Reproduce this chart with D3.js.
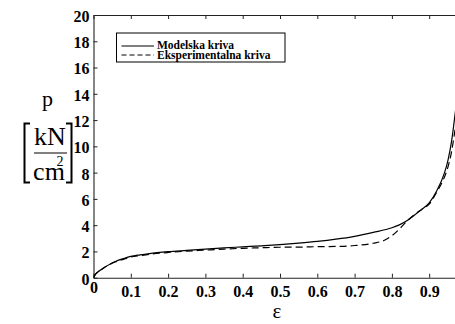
<!DOCTYPE html>
<html>
<head>
<meta charset="utf-8">
<script src="https://cdn.jsdelivr.net/npm/d3@7/dist/d3.min.js"></script>
<style>
  html, body { margin: 0; padding: 0; background: #fff; overflow: hidden; }
  svg { display: block; }
  text { font-family: "Liberation Serif", "Times New Roman", serif; fill: #000; }
</style>
</head>
<body>
<script>
// ---- data ----
const epsModel = [0, 0.005, 0.01, 0.02, 0.03, 0.045, 0.06, 0.08, 0.1, 0.125, 0.15, 0.2, 0.25, 0.3, 0.35, 0.4, 0.45, 0.5, 0.55, 0.6, 0.65, 0.7, 0.75, 0.8, 0.82, 0.84, 0.86, 0.88, 0.9, 0.92, 0.94, 0.95, 0.96, 0.97, 0.98];
const pModel   = [0, 0.25, 0.4, 0.6, 0.8, 1.05, 1.25, 1.45, 1.62, 1.74, 1.84, 1.98, 2.08, 2.18, 2.27, 2.35, 2.43, 2.52, 2.63, 2.76, 2.93, 3.15, 3.45, 3.8, 4.02, 4.33, 4.75, 5.2, 5.7, 6.6, 7.9, 8.9, 10.4, 12.6, 15.0];

const epsExp = [0, 0.005, 0.01, 0.02, 0.03, 0.045, 0.06, 0.08, 0.1, 0.125, 0.15, 0.2, 0.25, 0.3, 0.35, 0.4, 0.45, 0.5, 0.55, 0.6, 0.65, 0.7, 0.75, 0.78, 0.8, 0.82, 0.84, 0.86, 0.88, 0.9, 0.92, 0.94, 0.95, 0.96, 0.97, 0.98];
const pExp   = [0, 0.25, 0.4, 0.6, 0.8, 1.03, 1.22, 1.4, 1.57, 1.68, 1.78, 1.92, 2.02, 2.1, 2.18, 2.24, 2.28, 2.32, 2.33, 2.36, 2.38, 2.45, 2.62, 2.85, 3.2, 3.7, 4.3, 4.8, 5.2, 5.6, 6.5, 7.6, 8.4, 9.6, 11.4, 13.5];

const seriesNames = ["Modelska kriva", "Eksperimentalna kriva"];
const xTicks = [0, 0.1, 0.2, 0.3, 0.4, 0.5, 0.6, 0.7, 0.8, 0.9];
const yTicks = [0, 2, 4, 6, 8, 10, 12, 14, 16, 18, 20];
const xLabel = "ε";
const yLabelTop = "p";
const yUnitNum = "kN";
const yUnitDen = "cm";
const yUnitExp = "2";

// ---- layout ----
const W = 455, H = 324;
const svg = d3.select("body").append("svg").attr("width", W).attr("height", H);
svg.append("rect").attr("width", W).attr("height", H).attr("fill", "#fff");

const x = d3.scaleLinear().domain([0, 1]).range([93.5, 466.5]);
const y = d3.scaleLinear().domain([0, 20]).range([277.7, 15]);

const serif = '"Liberation Serif", "Times New Roman", serif';

// clip
svg.append("clipPath").attr("id", "clip").append("rect")
  .attr("x", x(0)).attr("y", y(20)).attr("width", x(1) - x(0)).attr("height", y(0) - y(20));

// axes
const fmtX = d => d === 0 ? "0" : d3.format(".1f")(d);
const gx = svg.append("g").attr("transform", `translate(0,${y(0)})`)
  .call(d3.axisBottom(x).tickValues(xTicks).tickFormat(fmtX).tickSizeInner(-4).tickSizeOuter(0).tickPadding(8));
const gy = svg.append("g").attr("transform", `translate(${x(0)},0)`)
  .call(d3.axisLeft(y).tickValues(yTicks).tickSizeInner(-4).tickSizeOuter(0).tickPadding(4));
const gt = svg.append("g").attr("transform", `translate(0,${y(20)})`)
  .call(d3.axisTop(x).tickValues(xTicks).tickFormat("").tickSizeInner(-4).tickSizeOuter(0));

[gx, gy, gt].forEach(g => {
  g.selectAll(".domain").attr("stroke", "#222").attr("stroke-width", 1.1);
  g.selectAll(".tick line").attr("stroke", "#222").attr("stroke-width", 1);
  g.selectAll("text").attr("font-family", serif).attr("font-size", 16).attr("font-weight", "bold").attr("fill", "#000");
});
gy.selectAll("text").attr("dy", "0.4em");
gx.selectAll(".tick").filter(d => d === 0).select("text").attr("dy", "0.45em");

// lines
const line = d3.line().x(d => x(d[0])).y(d => y(d[1])).curve(d3.curveMonotoneX);
const plot = svg.append("g").attr("clip-path", "url(#clip)");
plot.append("path").datum(d3.zip(epsModel, pModel))
  .attr("d", line).attr("fill", "none").attr("stroke", "#000").attr("stroke-width", 1.2);
plot.append("path").datum(d3.zip(epsExp, pExp))
  .attr("d", line).attr("fill", "none").attr("stroke", "#000").attr("stroke-width", 1.2)
  .attr("stroke-dasharray", "7,4");

// legend
const lg = svg.append("g");
lg.append("rect").attr("x", 116.5).attr("y", 33).attr("width", 168.5).attr("height", 29)
  .attr("fill", "#fff").attr("stroke", "#000").attr("stroke-width", 1);
const rows = [{name: seriesNames[0], dash: null, ly: 46, ty: 49},
              {name: seriesNames[1], dash: "5,3", ly: 55, ty: 58.5}];
rows.forEach(r => {
  lg.append("line").attr("x1", 121.5).attr("x2", 154).attr("y1", r.ly).attr("y2", r.ly)
    .attr("stroke", "#000").attr("stroke-width", 1).attr("stroke-dasharray", r.dash);
  lg.append("text").attr("x", 157).attr("y", r.ty).attr("font-size", 11.5).attr("font-weight", "bold")
    .text(r.name);
});

// x label
svg.append("text").attr("x", 277).attr("y", 318).attr("text-anchor", "middle")
  .attr("font-size", 21).text(xLabel);

// y label
svg.append("text").attr("x", 47.5).attr("y", 106).attr("text-anchor", "middle")
  .attr("font-size", 22).text(yLabelTop);
svg.append("text").attr("x", 50).attr("y", 145).attr("text-anchor", "middle")
  .attr("font-size", 26).text(yUnitNum);
svg.append("line").attr("x1", 34).attr("x2", 67).attr("y1", 153).attr("y2", 153)
  .attr("stroke", "#000").attr("stroke-width", 1.2);
svg.append("text").attr("x", 49).attr("y", 180).attr("text-anchor", "middle")
  .attr("font-size", 26).text(yUnitDen);
svg.append("text").attr("x", 60).attr("y", 166).attr("text-anchor", "middle")
  .attr("font-size", 14).text(yUnitExp);
// brackets
svg.append("path").attr("d", "M30,123.5 H24.5 V182.5 H30").attr("fill", "none")
  .attr("stroke", "#000").attr("stroke-width", 2);
svg.append("path").attr("d", "M66,123.5 H71.5 V182.5 H66").attr("fill", "none")
  .attr("stroke", "#000").attr("stroke-width", 2);
</script>
</body>
</html>
